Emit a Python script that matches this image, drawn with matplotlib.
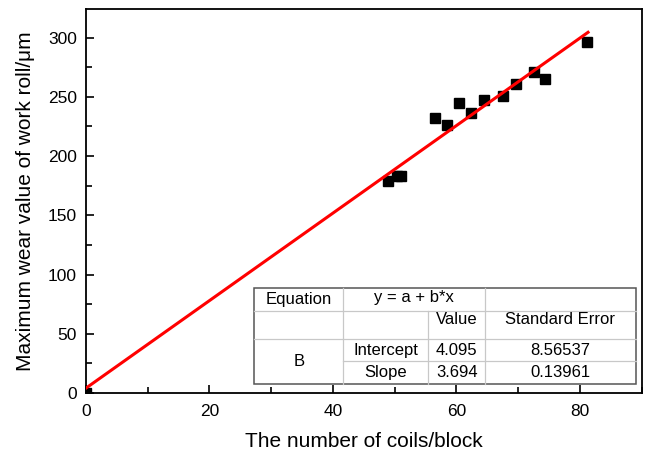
import matplotlib
matplotlib.use("Agg")
import matplotlib.pyplot as plt
import numpy as np
from matplotlib.ticker import MultipleLocator

plt.rcParams['font.family'] = ['Liberation Sans', 'DejaVu Sans']

coils = [0, 49.0, 50.3, 51.0, 56.5, 58.4, 60.4, 62.4, 64.5, 67.6, 69.6, 72.5, 74.4, 81.1]
wear = [0, 179, 183, 183, 232.5, 226, 245, 236.5, 247, 251, 261, 271, 265, 296]
intercept = 4.095
slope = 3.694
intercept_se = "8.56537"
slope_se = "0.13961"
fit_x = [0, 81.3]

fig = plt.figure(figsize=(6.45, 4.55), dpi=100)
ax = fig.add_axes([0.133, 0.136, 0.862, 0.844])

ax.plot(coils, wear, 's', color='black', markersize=7, zorder=3)
fx = np.array(fit_x)
ax.plot(fx, intercept + slope * fx, color='red', lw=2.2, zorder=4)

ax.set_xlim(0, 90)
ax.set_ylim(0, 324)
ax.xaxis.set_major_locator(MultipleLocator(20))
ax.xaxis.set_minor_locator(MultipleLocator(10))
ax.yaxis.set_major_locator(MultipleLocator(50))
ax.yaxis.set_minor_locator(MultipleLocator(25))
ax.tick_params(which='both', direction='in', top=False, right=False, labelsize=12.5, width=1.2)
ax.tick_params(which='major', length=6)
ax.tick_params(which='minor', length=4)
ax.tick_params(axis='x', which='major', pad=8)
ax.tick_params(axis='y', which='major', pad=6.5)
for s in ax.spines.values():
    s.set_linewidth(1.3)
ax.set_xlabel('The number of coils/block', fontsize=15, labelpad=9)
ax.set_ylabel('Maximum wear value of work roll/μm', fontsize=15, labelpad=9)

# table (axes fraction coords)
T = ax.transAxes
x0, x1, x2, x3, x4 = 0.303, 0.463, 0.616, 0.718, 0.989
yb, y1, y2, y3, yt = 0.023, 0.083, 0.141, 0.214, 0.274
gray = '#c8c8c8'
kw = dict(transform=T, color=gray, lw=0.9, zorder=5)
ax.add_patch(plt.Rectangle((x0, yb), x4 - x0, yt - yb, transform=T, facecolor='white',
                           edgecolor='#555555', lw=1.1, zorder=5))
ax.plot([x0, x4], [y3, y3], **kw)
ax.plot([x0, x4], [y2, y2], **kw)
ax.plot([x1, x4], [y1, y1], **kw)
ax.plot([x1, x1], [yb, yt], **kw)
ax.plot([x2, x2], [yb, y3], **kw)
ax.plot([x3, x3], [yb, yt], **kw)
tk = dict(transform=T, fontsize=12, zorder=6, va='center', ha='center')
ax.text((x0 + x1) / 2, (y3 + yt) / 2, 'Equation', **tk)
ax.text((x1 + x3) / 2, (y3 + yt) / 2 + 0.005, 'y = a + b*x', **tk)
ax.text((x2 + x3) / 2, (y2 + y3) / 2 + 0.015, 'Value', **tk)
ax.text((x3 + x4) / 2, (y2 + y3) / 2 + 0.015, 'Standard Error', **tk)
ax.text((x0 + x1) / 2, (yb + y2) / 2, 'B', **tk)
ax.text((x1 + x2) / 2, (y1 + y2) / 2, 'Intercept', **tk)
ax.text((x1 + x2) / 2, (yb + y1) / 2, 'Slope', **tk)
ax.text((x2 + x3) / 2, (y1 + y2) / 2, f'{intercept:.3f}', **tk)
ax.text((x2 + x3) / 2, (yb + y1) / 2, f'{slope:.3f}', **tk)
ax.text((x3 + x4) / 2, (y1 + y2) / 2, intercept_se, **tk)
ax.text((x3 + x4) / 2, (yb + y1) / 2, slope_se, **tk)

fig.savefig('out.png', dpi=100)
